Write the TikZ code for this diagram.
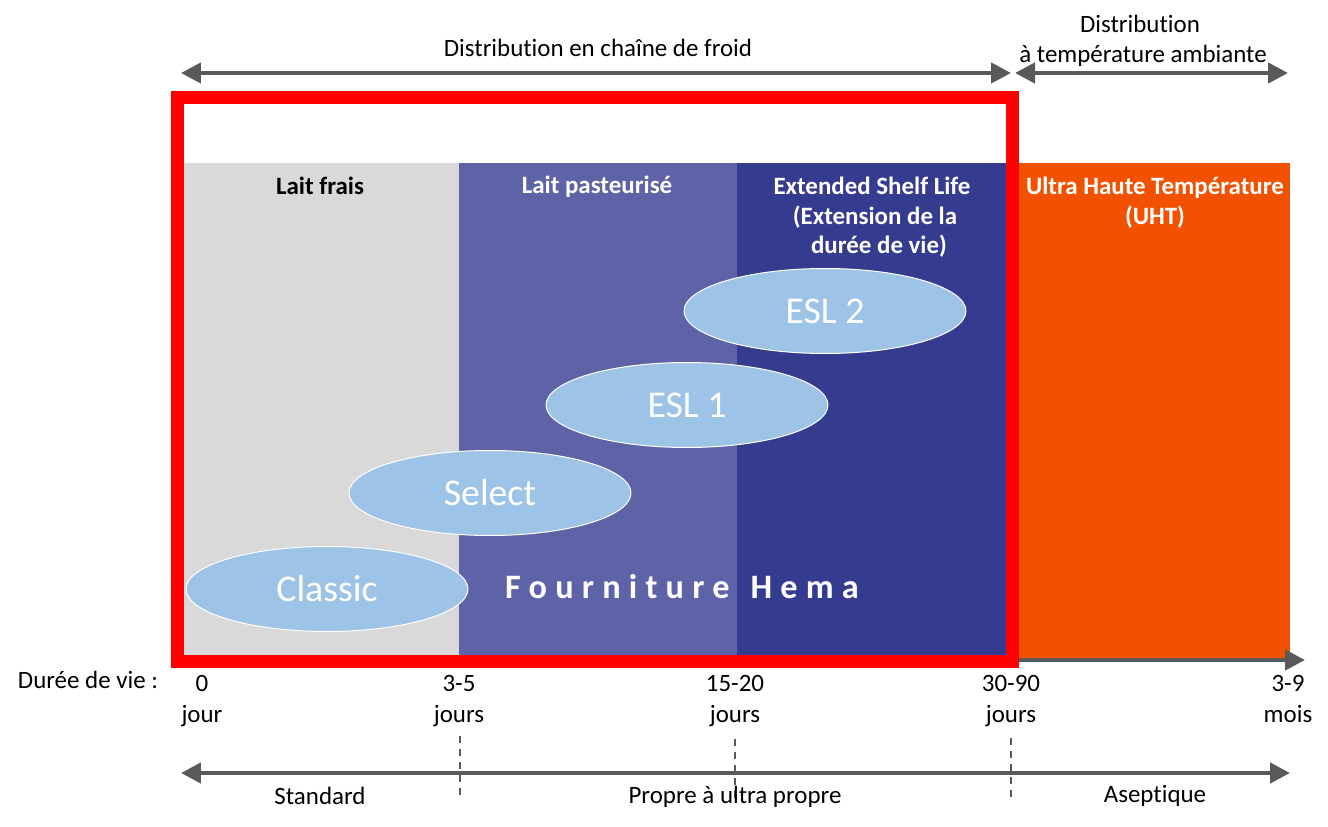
\documentclass[tikz,border=0pt]{standalone}
\usepackage{fontspec}
\setmainfont[Ligatures=NoCommon]{Carlito}
\usetikzlibrary{arrows.meta,shapes.geometric}
\definecolor{bandgrey}{HTML}{D9D9D9}
\definecolor{bandmid}{HTML}{5E62A6}
\definecolor{banddark}{HTML}{353B8F}
\definecolor{bandorange}{HTML}{F25200}
\definecolor{arrowgrey}{HTML}{595959}
\definecolor{bubble}{HTML}{9DC3E6}
\tikzset{
  span/.style = {arrowgrey, line width = .09cm, {Triangle[length=.4cm,width=.4cm]}-{Triangle[length=.4cm,width=.4cm]}},
  axis/.style = {arrowgrey, line width = .09cm, -{Triangle[length=.4cm,width=.4cm]}},
  tick/.style = {arrowgrey, line width = .04cm, dash pattern=on .14cm off .12cm},
  band/.style = {font=\fontsize{14.2}{17}\selectfont\bfseries, align=center, text=white},
  label/.style = {font=\fontsize{14.2}{17.6}\selectfont, align=center, text=black},
  bubblenode/.style = {ellipse, draw=white, line width=.02cm, fill=bubble, minimum width=5.64cm, minimum height=1.7cm, inner sep=0pt, font=\fontsize{21.5}{24}\selectfont, text=white}
}
\begin{document}
\begin{tikzpicture}[x=.02cm, y=-.02cm]
    \useasboundingbox (0,0) rectangle (1328,827);

    \fill [bandgrey] (184,163) rectangle (459,655);
    \fill [bandmid] (459,163) rectangle (737,655);
    \fill [banddark] (737,163) rectangle (1006,655);
    \fill [bandorange] (1019,163) rectangle (1290,658);

    \coordinate (coldL) at (181,73);
    \coordinate (coldR) at (1011,73);
    \coordinate (ambL) at (1015,73);
    \coordinate (ambR) at (1288,73);
    \coordinate (lifeL) at (1000,660);
    \coordinate (lifeR) at (1305,660);
    \coordinate (cleanL) at (181,773);
    \coordinate (cleanR) at (1290,773);
    \coordinate (tickAt) at (460,736);
    \coordinate (tickAb) at (460,800);
    \coordinate (tickBt) at (735,739);
    \coordinate (tickBb) at (735,800);
    \coordinate (tickCt) at (1011,738);
    \coordinate (tickCb) at (1011,802);

    \draw [axis] (lifeL) -- (lifeR);
    \draw [span] (coldL) -- (coldR);
    \draw [span] (ambL) -- (ambR);
    \draw [span] (cleanL) -- (cleanR);
    \draw [tick] (tickAt) -- (tickAb);
    \draw [tick] (tickBt) -- (tickBb);
    \draw [tick] (tickCt) -- (tickCb);

    \draw [red, line width = .26cm] (177.5,97.5) rectangle (1012.5,661.5);

    \node [bubblenode] (esltwo) at (825,311) {ESL 2};
    \node [bubblenode] (eslone) at (687,405) {ESL 1};
    \node [bubblenode] (select) at (490,493) {Select};
    \node [bubblenode] (classic) at (327,589) {Classic};

    \node [band, text=black] (frais) at (320,186) {Lait frais};
    \node [band] (pasteur) at (597,187) {Lait pasteurisé};
    \node [band, anchor=north] (esl) at (872,170.5) {Extended Shelf Life\\\hspace{.12cm}(Extension de la\\\hspace{.28cm}durée de vie)};
    \node [band, anchor=north] (uht) at (1155,170.5) {Ultra Haute Température\\(UHT)};
    \node [text=white, font=\fontsize{19.5}{22}\selectfont\bfseries\addfontfeatures{LetterSpace=24}] (hema) at (682,587) {Fourniture\hspace{.1cm} Hema};

    \node [label] (cold) at (598,48) {Distribution en chaîne de froid};
    \node [label, anchor=north] (amb) at (1143,9) {Distribution\hspace*{.12cm}\\[-.5pt]à température ambiante};
    \node [label] (life) at (88,680) {Durée de vie :};
    \node [label, anchor=north] (d0) at (202,669) {0\\jour};
    \node [label, anchor=north] (d3) at (459,669) {3-5\\jours};
    \node [label, anchor=north] (d15) at (735,669) {15-20\\jours};
    \node [label, anchor=north] (d30) at (1011,669) {30-90\\jours};
    \node [label, anchor=north] (m3) at (1288,669) {3-9\\mois};
    \node [label] (std) at (320,796) {Standard};
    \node [label] (clean) at (735,797) {Propre à ultra propre};
    \node [label] (asep) at (1155,796) {Aseptique};
\end{tikzpicture}
\end{document}
